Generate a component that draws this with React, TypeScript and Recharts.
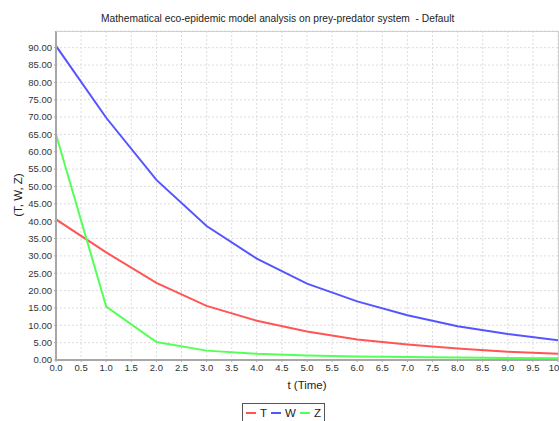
import React from "react";
import { LineChart, Line, XAxis, YAxis, CartesianGrid } from "recharts";

const times = [0, 1, 2, 3, 4, 5, 6, 7, 8, 9, 10];
const seriesT = [40.5, 31.0, 22.2, 15.6, 11.3, 8.2, 5.9, 4.5, 3.3, 2.4, 1.8];
const seriesW = [90.5, 69.8, 51.9, 38.6, 29.2, 22.0, 16.9, 12.9, 9.7, 7.5, 5.7];
const seriesZ = [65.0, 15.4, 5.2, 2.7, 1.8, 1.3, 1.0, 0.9, 0.7, 0.6, 0.5];
const xTicks = [0, 0.5, 1, 1.5, 2, 2.5, 3, 3.5, 4, 4.5, 5, 5.5, 6, 6.5, 7, 7.5, 8, 8.5, 9, 9.5, 10];
const yTicks = [0, 5, 10, 15, 20, 25, 30, 35, 40, 45, 50, 55, 60, 65, 70, 75, 80, 85, 90];
const title = "Mathematical eco-epidemic model analysis on prey-predator system  - Default";
const legendItems = [
  { name: "T", color: "#ff5555" },
  { name: "W", color: "#5555ff" },
  { name: "Z", color: "#55ff55" },
];

const data = times.map((t, i) => ({ t, T: seriesT[i], W: seriesW[i], Z: seriesZ[i] }));

const FONT = "'Liberation Sans', Arial, sans-serif";

export default function App() {
  return (
    <div style={{ position: "absolute", left: 0, top: 0, width: 559, height: 421, background: "#fff", overflow: "hidden", fontFamily: FONT }}>
      <div style={{ position: "absolute", left: 101, top: 12, fontSize: 11.5, color: "#222", whiteSpace: "pre", transform: "scaleX(0.89)", transformOrigin: "0 0" }}>{title}</div>
      <LineChart width={559} height={421} data={data} margin={{ top: 31, right: 1, bottom: 41, left: 6 }}>
        <CartesianGrid stroke="#dcdcdc" strokeDasharray="2 2" fill="#fff" />
        <XAxis
          dataKey="t"
          type="number"
          domain={[0, 10]}
          ticks={xTicks}
          tickFormatter={(v: number) => v.toFixed(1)}
          interval={0}
          height={20}
          stroke="#a8a8a8"
          strokeWidth={2}
          tickLine={{ stroke: "#a8a8a8", strokeWidth: 1 }}
          tickSize={2}
          tick={{ fontSize: 9.5, fill: "#333", fontFamily: FONT }}
          allowDataOverflow
        />
        <YAxis
          type="number"
          domain={[0, 94.8]}
          ticks={yTicks}
          tickFormatter={(v: number) => v.toFixed(2)}
          interval={0}
          width={50}
          stroke="#a8a8a8"
          strokeWidth={2}
          tickLine={{ stroke: "#a8a8a8", strokeWidth: 1 }}
          tickSize={2}
          tick={{ fontSize: 9.5, fill: "#333", fontFamily: FONT }}
          allowDataOverflow
        />
        <Line type="linear" dataKey="T" stroke="#ff5555" strokeWidth={2} dot={false} isAnimationActive={false} />
        <Line type="linear" dataKey="W" stroke="#5555ff" strokeWidth={2} dot={false} isAnimationActive={false} />
        <Line type="linear" dataKey="Z" stroke="#55ff55" strokeWidth={2} dot={false} isAnimationActive={false} />
      </LineChart>
      <div style={{ position: "absolute", left: 56, top: 31, width: 503, height: 329, borderTop: "1px solid #d0d0d0", borderRight: "1px solid #d0d0d0", boxSizing: "border-box", pointerEvents: "none" }} />
      <div style={{ position: "absolute", left: 56, width: 502, top: 379, textAlign: "center", fontSize: 11.5, color: "#222" }}>t (Time)</div>
      <div style={{ position: "absolute", left: 18, top: 195, transform: "translate(-50%, -50%) rotate(-90deg)", fontSize: 11.5, color: "#222", whiteSpace: "nowrap" }}>(T, W, Z)</div>
      <div style={{ position: "absolute", left: 242, top: 403, width: 83, height: 24, border: "1px solid #555", boxSizing: "border-box", display: "flex", alignItems: "flex-start", paddingTop: 3, paddingLeft: 3, fontSize: 11.5, color: "#222" }}>
        {legendItems.map((it) => (
          <div key={it.name} style={{ display: "flex", alignItems: "center", marginRight: 4 }}>
            <div style={{ width: 10, height: 2, background: it.color, marginRight: 4 }} />
            <span>{it.name}</span>
          </div>
        ))}
      </div>
    </div>
  );
}
